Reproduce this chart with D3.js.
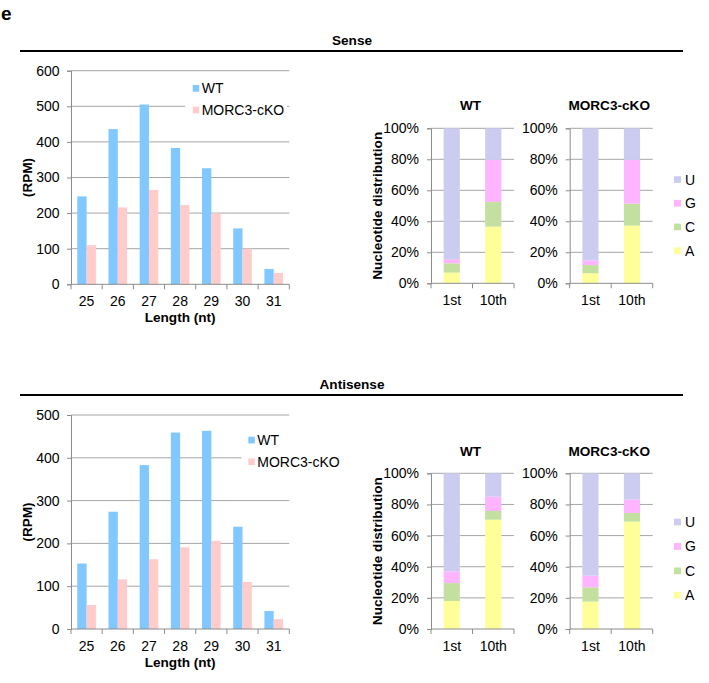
<!DOCTYPE html>
<html>
<head>
<meta charset="utf-8">
<script src="https://cdn.jsdelivr.net/npm/d3@7"></script>
<style>
  html, body { margin: 0; padding: 0; background: #fff; }
  svg { display: block; font-family: "Liberation Sans", Arial, sans-serif; }
</style>
</head>
<body>
<svg id="chart" width="709" height="683"></svg>
<script>
// ---------------- data ----------------
const lengths = ["25", "26", "27", "28", "29", "30", "31"];
const seriesNames = ["WT", "MORC3-cKO"];
const senseWT = [247, 436, 505, 383, 326, 157, 43];
const senseKO = [110, 216, 265, 223, 199, 100, 32];
const antisenseWT = [153, 274, 383, 459, 463, 239, 42];
const antisenseKO = [56, 116, 163, 191, 206, 110, 23];
const senseTicks = [0, 100, 200, 300, 400, 500, 600];
const antisenseTicks = [0, 100, 200, 300, 400, 500];

const positions = ["1st", "10th"];
const nucleotides = ["A", "C", "G", "U"];
const pctTicks = [0, 20, 40, 60, 80, 100];
// percentages A, C, G, U for 1st and 10th position
const senseWT1st = [6.9, 6.0, 2.6, 84.5];
const senseWT10th = [36.6, 15.9, 27.1, 20.4];
const senseKO1st = [6.5, 5.3, 3.0, 85.2];
const senseKO10th = [37.2, 14.2, 28.2, 20.4];
const antisenseWT1st = [18.0, 11.5, 7.5, 63.0];
const antisenseWT10th = [70.2, 5.6, 9.2, 15.0];
const antisenseKO1st = [17.6, 9.2, 7.5, 65.7];
const antisenseKO10th = [69.0, 5.5, 8.6, 16.9];

// ---------------- styles ----------------
const barColors = { "WT": "#80c8ff", "MORC3-cKO": "#ffcccc" };
const ntColors = { A: "#ffff99", C: "#c4e0a0", G: "#ffb4ff", U: "#ccccf0" };
const gridColor = "#a6a6a6";
const axisColor = "#8c8c8c";
const FS = 14;
const FB = 13.6;

const svg = d3.select("#chart");

svg.append("text").attr("x", 1).attr("y", 20)
  .attr("font-size", 19).attr("font-weight", "bold").text("e");

function sectionHeader(title, lineY) {
  svg.append("line").attr("x1", 20).attr("x2", 683)
    .attr("y1", lineY).attr("y2", lineY)
    .attr("stroke", "#000").attr("stroke-width", 2);
  svg.append("text").attr("x", 352).attr("y", lineY - 6)
    .attr("text-anchor", "middle").attr("font-size", FB).attr("font-weight", "bold")
    .text(title);
}
sectionHeader("Sense", 51);
sectionHeader("Antisense", 395);

function barChart(o) {
  const g = svg.append("g");
  const x = d3.scaleBand().domain(lengths).range([o.x0, o.x1]).paddingInner(0).paddingOuter(0);
  const xs = d3.scaleBand().domain(seriesNames).range([0, x.bandwidth()]).paddingInner(0).paddingOuter(0.675);
  const y = d3.scaleLinear().domain([0, o.max]).range([o.y0, o.y1]);

  // gridlines
  g.selectAll(".grid").data(o.ticks.filter(t => t > 0)).join("line")
    .attr("x1", o.x0).attr("x2", o.x1)
    .attr("y1", d => y(d)).attr("y2", d => y(d))
    .attr("stroke", gridColor).attr("stroke-width", 1);

  // bars
  const data = lengths.map((l, i) => ({ l, vals: [o.wt[i], o.ko[i]] }));
  const grp = g.selectAll(".grp").data(data).join("g")
    .attr("transform", d => `translate(${x(d.l)},0)`);
  grp.selectAll("rect").data(d => seriesNames.map((s, j) => ({ s, v: d.vals[j] }))).join("rect")
    .attr("x", d => xs(d.s)).attr("width", xs.bandwidth())
    .attr("y", d => y(d.v)).attr("height", d => y(0) - y(d.v))
    .attr("fill", d => barColors[d.s]);

  // legend background + legend
  g.append("rect").attr("x", o.leg.bx).attr("y", o.leg.by).attr("width", o.leg.bw).attr("height", o.leg.bh).attr("fill", "#fff");
  seriesNames.forEach((s, i) => {
    const cy = o.leg.y + i * o.leg.dy;
    g.append("rect").attr("x", o.leg.x).attr("y", cy - 3.3).attr("width", 6.5).attr("height", 6.7).attr("fill", barColors[s]);
    g.append("text").attr("x", o.leg.x + 9).attr("y", cy + 5).attr("font-size", FS).attr("fill", "#000").text(s);
  });

  // y axis
  const yAxis = d3.axisLeft(y).tickValues(o.ticks).tickSize(4).tickPadding(7.5);
  const ya = g.append("g").attr("transform", `translate(${o.x0},0)`).call(yAxis);
  ya.select(".domain").attr("stroke", axisColor);
  ya.selectAll(".tick line").attr("stroke", axisColor);
  ya.selectAll(".tick text").attr("font-size", FS).attr("fill", "#000").attr("font-family", "Liberation Sans, Arial, sans-serif");

  // x axis
  g.append("line").attr("x1", o.x0).attr("x2", o.x1).attr("y1", y(0)).attr("y2", y(0)).attr("stroke", axisColor);
  const bounds = lengths.map(l => x(l)).concat([x(lengths[lengths.length - 1]) + x.step()]);
  g.selectAll(".xt").data(bounds).join("line")
    .attr("x1", d => d).attr("x2", d => d).attr("y1", y(0)).attr("y2", y(0) + 5).attr("stroke", axisColor);
  g.selectAll(".xl").data(lengths).join("text")
    .attr("x", d => x(d) + x.bandwidth() / 2).attr("y", y(0) + 21.5)
    .attr("text-anchor", "middle").attr("font-size", FS).text(d => d);
  g.append("text").attr("x", (o.x0 + o.x1) / 2).attr("y", y(0) + 37.5)
    .attr("text-anchor", "middle").attr("font-size", FB).attr("font-weight", "bold").text("Length (nt)");
  g.append("text").attr("transform", `translate(31.5,${(o.y0 + o.y1) / 2}) rotate(-90)`)
    .attr("text-anchor", "middle").attr("font-size", FB).attr("font-weight", "bold").text("(RPM)");
}

barChart({ x0: 71, x1: 289.3, y0: 284.3, y1: 70.7, max: 600, ticks: senseTicks,
  wt: senseWT, ko: senseKO,
  leg: { x: 192.7, y: 88.3, dy: 21.7, bx: 185, by: 76, bw: 102, bh: 46 } });
barChart({ x0: 71, x1: 289.3, y0: 629, y1: 415, max: 500, ticks: antisenseTicks,
  wt: antisenseWT, ko: antisenseKO,
  leg: { x: 248.3, y: 440, dy: 21.7, bx: 241.5, by: 428, bw: 100, bh: 46 } });

function stackedChart(o) {
  const g = svg.append("g");
  const x = d3.scaleBand().domain(positions).range([o.x0, o.x1]).paddingInner(0.61).paddingOuter(0.305);
  const y = d3.scaleLinear().domain([0, 100]).range([o.y0, o.y1]);
  const rows = positions.map((p, i) => {
    const r = { pos: p };
    nucleotides.forEach((n, k) => { r[n] = o.vals[i][k]; });
    return r;
  });
  const stacked = d3.stack().keys(nucleotides)(rows);

  g.selectAll(".grid").data(pctTicks.filter(t => t > 0)).join("line")
    .attr("x1", o.x0).attr("x2", o.x1)
    .attr("y1", d => y(d)).attr("y2", d => y(d))
    .attr("stroke", gridColor).attr("stroke-width", 1);

  g.selectAll(".layer").data(stacked).join("g").attr("fill", d => ntColors[d.key])
    .selectAll("rect").data(d => d).join("rect")
    .attr("x", d => x(d.data.pos)).attr("width", x.bandwidth())
    .attr("y", d => y(d[1])).attr("height", d => y(d[0]) - y(d[1]));

  const yAxis = d3.axisLeft(y).tickValues(pctTicks).tickFormat(d => d + "%").tickSize(4).tickPadding(8);
  const ya = g.append("g").attr("transform", `translate(${o.x0},0)`).call(yAxis);
  ya.select(".domain").attr("stroke", axisColor);
  ya.selectAll(".tick line").attr("stroke", axisColor);
  ya.selectAll(".tick text").attr("font-size", FS).attr("fill", "#000").attr("font-family", "Liberation Sans, Arial, sans-serif");

  g.append("line").attr("x1", o.x0).attr("x2", o.x1).attr("y1", y(0)).attr("y2", y(0)).attr("stroke", axisColor);
  const bounds = [o.x0, (o.x0 + o.x1) / 2, o.x1];
  g.selectAll(".xt").data(bounds).join("line")
    .attr("x1", d => d).attr("x2", d => d).attr("y1", y(0)).attr("y2", y(0) + 5).attr("stroke", axisColor);
  g.selectAll(".xl").data(positions).join("text")
    .attr("x", d => x(d) + x.bandwidth() / 2).attr("y", y(0) + 21.5)
    .attr("text-anchor", "middle").attr("font-size", FS).text(d => d);
  g.append("text").attr("x", (o.x0 + o.x1) / 2 - 2).attr("y", o.titleY)
    .attr("text-anchor", "middle").attr("font-size", FB).attr("font-weight", "bold").text(o.title);
}

function stackedPair(o) {
  stackedChart({ x0: 431, x1: 514, y0: o.y0, y1: o.y1, vals: o.wt, title: "WT", titleY: o.titleY });
  stackedChart({ x0: 569.7, x1: 652.7, y0: o.y0, y1: o.y1, vals: o.ko, title: "MORC3-cKO", titleY: o.titleY });
  svg.append("text").attr("transform", `translate(381.5,${(o.y0 + o.y1) / 2}) rotate(-90)`)
    .attr("text-anchor", "middle").attr("font-size", FB).attr("font-weight", "bold").text("Nucleotide distribution");
  nucleotides.slice().reverse().forEach((n, i) => {
    const cy = o.legY + i * o.legDy;
    svg.append("rect").attr("x", 674).attr("y", cy - 3.3).attr("width", 7).attr("height", 6.7).attr("fill", ntColors[n]);
    svg.append("text").attr("x", 685).attr("y", cy + 5).attr("font-size", FS).text(n);
  });
}

stackedPair({ y0: 283.3, y1: 128.3, titleY: 109.5,
  wt: [senseWT1st, senseWT10th], ko: [senseKO1st, senseKO10th], legY: 179.5, legDy: 23.7 });
stackedPair({ y0: 629, y1: 473.3, titleY: 455.7,
  wt: [antisenseWT1st, antisenseWT10th], ko: [antisenseKO1st, antisenseKO10th], legY: 522, legDy: 24.4 });
</script>
</body>
</html>
